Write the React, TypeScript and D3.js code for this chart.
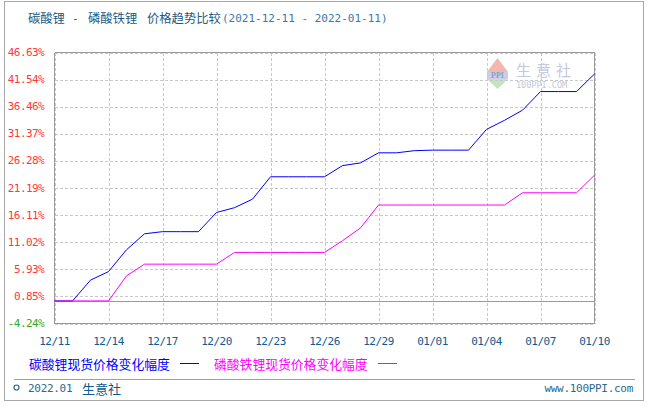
import React from 'react';
import * as d3 from 'd3';

const dates = [
  '12/11','12/12','12/13','12/14','12/15','12/16','12/17','12/18','12/19','12/20',
  '12/21','12/22','12/23','12/24','12/25','12/26','12/27','12/28','12/29','12/30','12/31',
  '01/01','01/02','01/03','01/04','01/05','01/06','01/07','01/08','01/09','01/10'
];
const carbonate = [
  0, 0, 3.9, 5.5, 9.6, 12.6, 13.0, 13.0, 13.0, 16.6,
  17.5, 19.1, 23.3, 23.3, 23.3, 23.3, 25.4, 25.9, 27.8, 27.8, 28.2,
  28.3, 28.3, 28.3, 32.2, 33.9, 35.8, 39.3, 39.3, 39.3, 42.6
];
const phosphate = [
  0, 0, 0, 0, 4.7, 6.9, 6.9, 6.9, 6.9, 6.9,
  9.1, 9.1, 9.1, 9.1, 9.1, 9.1, 11.3, 13.7, 18.0, 18.0, 18.0,
  18.0, 18.0, 18.0, 18.0, 18.0, 20.3, 20.3, 20.3, 20.3, 23.6
];
const yTicks = [-4.24, 0.85, 5.93, 11.02, 16.11, 21.19, 26.28, 31.37, 36.46, 41.54, 46.63];
const xTickLabels = ['12/11','12/14','12/17','12/20','12/23','12/26','12/29','01/01','01/04','01/07','01/10'];
const seriesNames = ['碳酸锂现货价格变化幅度', '磷酸铁锂现货价格变化幅度'];

const MONO = '"DejaVu Sans Mono", "Liberation Mono", monospace';
const CJK = '"Noto Sans CJK SC", "Noto Sans", sans-serif';

export default function App() {
  const left = 54.5, right = 594.5, top = 52.5, bottom = 323.5;
  const x = d3.scalePoint<string>().domain(dates).range([left, right]).padding(0);
  const y = d3.scaleLinear().domain([yTicks[0], yTicks[yTicks.length - 1]]).range([bottom, top]);
  const line = d3.line<number>().x((_, i) => x(dates[i]) as number).y(v => y(v));
  const gridColor = '#c8c8c8';
  const axisColor = '#9a9a9a';
  const zeroY = Math.round(y(0)) + 0.5;

  return (
    <svg width={652} height={409} style={{ position: 'absolute', left: 0, top: 0, background: '#fff' }}>
      {/* outer frame */}
      <rect x={4.5} y={1.5} width={639} height={399} fill="#fff" stroke="#a8a8a8" strokeWidth={1} />

      {/* title */}
      <g fontFamily={CJK} fontSize={12.3} fill="#1b5a80" dominantBaseline="central">
        <text x={28} y={18}>碳酸锂</text>
        <text x={72} y={18} fontFamily={MONO} fontSize={11}>-</text>
        <text x={88} y={18}>磷酸铁锂</text>
        <text x={147} y={18}>价格趋势比较</text>
        <text x={222} y={18} fontFamily={MONO} fontSize={11} fill="#3a78ae">(2021-12-11 - 2022-01-11)</text>
      </g>

      {/* watermark */}
      <g>
        <polygon points="487,72 497.5,58 508,72" fill="#f4b7ae" />
        <rect x={487} y={72} width={21} height={7} fill="#c9cfe4" />
        <text x={497.5} y={75.8} textAnchor="middle" dominantBaseline="central" fontFamily="serif" fontWeight="bold" fontSize={8} fill="#8f9cc8">PPI</text>
        <polygon points="487,79 508,79 497.5,89" fill="#bfe6bf" />
        <text x={516} y={69} dominantBaseline="central" fontFamily={CJK} fontSize={15} fill="#c3c8de" letterSpacing={5}>生意社</text>
        <text x={516} y={85} dominantBaseline="central" fontFamily={MONO} fontSize={8.5} fill="#c3c8de">100PPI.COM</text>
      </g>

      {/* horizontal grid */}
      {yTicks.map((t, i) => (
        <line key={'hg' + i} x1={left} x2={right} y1={Math.round(y(t)) + 0.5} y2={Math.round(y(t)) + 0.5}
          stroke={gridColor} strokeDasharray="3,2" shapeRendering="crispEdges" />
      ))}
      {/* vertical grid */}
      {xTickLabels.map((d, i) => (
        <line key={'vg' + i} x1={Math.round(x(d) as number) + 0.5} x2={Math.round(x(d) as number) + 0.5} y1={top} y2={bottom}
          stroke={gridColor} strokeDasharray="3,2" shapeRendering="crispEdges" />
      ))}

      {/* borders */}
      <line x1={left} x2={right} y1={top} y2={top} stroke={axisColor} shapeRendering="crispEdges" />
      <line x1={left} x2={right} y1={bottom} y2={bottom} stroke={axisColor} shapeRendering="crispEdges" />
      <line x1={left} x2={left} y1={top} y2={bottom} stroke={axisColor} shapeRendering="crispEdges" />
      <line x1={right} x2={right} y1={top} y2={bottom} stroke={axisColor} shapeRendering="crispEdges" />
      <line x1={left} x2={right} y1={zeroY} y2={zeroY} stroke={axisColor} shapeRendering="crispEdges" />

      {/* y labels */}
      {yTicks.map((t, i) => (
        <text key={'yl' + i} x={44} y={y(t)} textAnchor="end" dominantBaseline="central"
          fontFamily={MONO} fontSize={11} letterSpacing={-0.6} fill={t < 0 ? '#2eaa2e' : '#ff3838'}>
          {t.toFixed(2)}%
        </text>
      ))}

      {/* x labels */}
      {xTickLabels.map((d, i) => (
        <text key={'xl' + i} x={x(d) as number} y={341.5} textAnchor="middle" dominantBaseline="central"
          fontFamily={MONO} fontSize={11} letterSpacing={-0.5} fill="#0f5a8e">
          {d}
        </text>
      ))}

      {/* series */}
      <path d={line(carbonate) as string} fill="none" stroke="#0000ff" strokeWidth={1} />
      <path d={line(phosphate) as string} fill="none" stroke="#ff00ff" strokeWidth={1} />

      {/* legend */}
      <g fontFamily={CJK} fontSize={12.8} dominantBaseline="central">
        <text x={29} y={363} fill="#0000ff">{seriesNames[0]}</text>
        <line x1={180} x2={199} y1={363.5} y2={363.5} stroke="#0000ff" />
        <text x={214} y={363} fill="#ff00ff">{seriesNames[1]}</text>
        <line x1={378} x2={397} y1={363.5} y2={363.5} stroke="#ff00ff" />
      </g>

      {/* footer */}
      <line x1={14} x2={635} y1={379.5} y2={379.5} stroke="#a0a0a0" />
      <circle cx={16.5} cy={387.5} r={2.5} fill="none" stroke="#2a6a90" strokeWidth={1.2} />
      <text x={28} y={388} dominantBaseline="central" fontFamily={MONO} fontSize={11} letterSpacing={-0.3} fill="#2a6a90">2022.01</text>
      <text x={82} y={388} dominantBaseline="central" fontFamily={CJK} fontSize={13} fill="#0f5a8e">生意社</text>
      <text x={633} y={388} textAnchor="end" dominantBaseline="central" fontFamily={MONO} fontSize={11} letterSpacing={-0.3} fill="#2a6a90">www.100PPI.com</text>
    </svg>
  );
}
